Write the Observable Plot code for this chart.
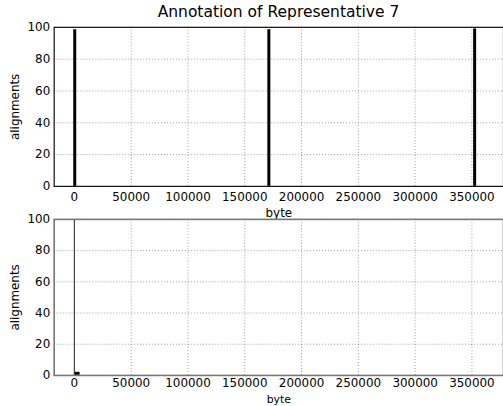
<!DOCTYPE html>
<html><head><meta charset="utf-8">
<script src="https://cdn.jsdelivr.net/npm/d3@7"></script>
<script src="https://cdn.jsdelivr.net/npm/@observablehq/plot@0.6"></script>
<style>
html,body{margin:0;padding:0;background:#fff;overflow:hidden;}
#wrap{position:relative;width:503px;height:406px;overflow:hidden;font-family:"DejaVu Sans",sans-serif;}
#wrap svg{position:absolute;left:0;}
#title{position:absolute;left:54px;width:449px;top:3px;text-align:center;font-size:15.5px;line-height:18px;color:#000;}
</style></head>
<body><div id="wrap"><div id="title"></div></div>
<script>
// data
const title = "Annotation of Representative 7";
const xLabel = "byte";
const yLabel = "alignments";
const xTicks = [0, 50000, 100000, 150000, 200000, 250000, 300000, 350000];
const yTicks = [0, 20, 40, 60, 80, 100];
const topBytes = [300, 171200, 352400];
const topAlignments = [98.5, 98.5, 99];
const bottomPeakByte = [0];
const bottomPeakAlignments = [100];
const bottomBlockStart = [0];
const bottomBlockEnd = [5000];
const bottomBlockAlignments = [2];

document.getElementById("title").textContent = title;

const xDomain = [-17800, 377800];
const yDomain = [0, 100];
const W = 506;

function panel({top, height, mt, mb, frameColor, frameWidth, tickPad, xLabelMark, marks}) {
  const svg = Plot.plot({
    width: W, height, marginLeft: 54, marginRight: 0, marginTop: mt, marginBottom: mb,
    style: {fontFamily: "DejaVu Sans, sans-serif", fontSize: "12px", color: "#000", background: "transparent", overflow: "visible"},
    x: {domain: xDomain, ticks: xTicks},
    y: {domain: yDomain, ticks: yTicks},
    marks: [
      Plot.gridX(xTicks, {stroke: "#000", strokeOpacity: 0.65, strokeWidth: 0.6, strokeDasharray: "1,2"}),
      Plot.gridY(yTicks, {stroke: "#000", strokeOpacity: 0.65, strokeWidth: 0.6, strokeDasharray: "1,2"}),
      ...marks,
      Plot.axisX(xTicks, {tickSize: 0, tickPadding: tickPad, tickFormat: d => String(d), label: null, fontSize: 12}),
      xLabelMark,
      Plot.axisY(yTicks, {tickSize: 0, tickPadding: 4, tickFormat: d => String(d), label: yLabel, labelAnchor: "center", labelArrow: "none", labelOffset: 44, fontSize: 12}),
      Plot.frame({stroke: frameColor, strokeWidth: frameWidth})
    ]
  });
  svg.style.top = top + "px";
  document.getElementById("wrap").appendChild(svg);
}

panel({top: 0, height: 212, mt: 27, mb: 25, frameColor: "#111", frameWidth: 1.2, tickPad: 6,
  xLabelMark: Plot.text([xLabel], {text: d => d, frameAnchor: "bottom", dy: 31, lineAnchor: "bottom", fontSize: 12}),
  marks: [
  Plot.ruleX(topBytes, {x: d => d, y1: 0, y2: (d, i) => topAlignments[i], stroke: "#000", strokeWidth: 3})
]});

panel({top: 199, height: 207, mt: 20, mb: 30, frameColor: "#777", frameWidth: 1.6, tickPad: 3,
  xLabelMark: Plot.text([xLabel], {text: d => d, frameAnchor: "bottom", dy: 28, lineAnchor: "bottom", fontSize: 11}),
  marks: [
  Plot.rectY(bottomBlockStart, {x1: d => d, x2: (d, i) => bottomBlockEnd[i], y1: 0, y2: (d, i) => bottomBlockAlignments[i], fill: "#000"}),
  Plot.ruleX(bottomPeakByte, {x: d => d, y1: 0, y2: (d, i) => bottomPeakAlignments[i], stroke: "#444", strokeWidth: 1.2})
]});
</script></body></html>
